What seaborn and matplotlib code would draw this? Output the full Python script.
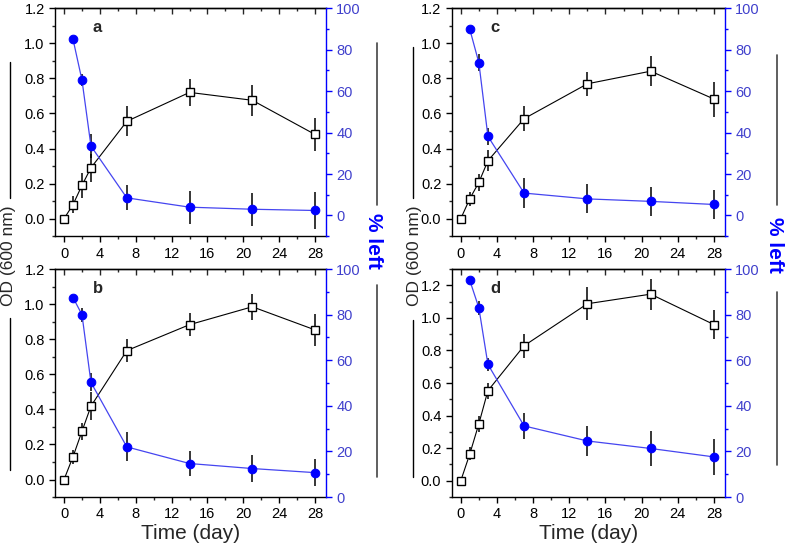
import matplotlib
matplotlib.use("Agg")
import matplotlib.pyplot as plt
import seaborn as sns
from matplotlib.lines import Line2D
from matplotlib.ticker import MultipleLocator

# time points (days)
days_od = [0, 1, 2, 3, 7, 14, 21, 28]
days_pct = [1, 2, 3, 7, 14, 21, 28]

# OD (600 nm) per panel, with error
od_a = [0.0, 0.08, 0.19, 0.29, 0.555, 0.72, 0.675, 0.48]
od_a_err = [0.0, 0.05, 0.07, 0.08, 0.085, 0.075, 0.09, 0.095]
od_b = [0.0, 0.13, 0.275, 0.418, 0.735, 0.883, 0.985, 0.853]
od_b_err = [0.0, 0.04, 0.05, 0.08, 0.065, 0.065, 0.075, 0.09]
od_c = [0.0, 0.114, 0.207, 0.33, 0.57, 0.769, 0.841, 0.682]
od_c_err = [0.0, 0.04, 0.05, 0.06, 0.07, 0.07, 0.085, 0.1]
od_d = [0.0, 0.165, 0.35, 0.553, 0.829, 1.087, 1.146, 0.959]
od_d_err = [0.0, 0.04, 0.05, 0.05, 0.075, 0.1, 0.095, 0.09]

# % left per panel, with error
pct_a = [85, 65.3, 33.5, 8.5, 4, 3, 2.4]
pct_a_err = [0, 3, 5.6, 6, 8, 8, 8.7]
pct_b = [87.5, 80, 50.3, 22, 14.7, 12.5, 10.7]
pct_b_err = [0, 3, 4, 6.4, 5.5, 6, 6]
pct_c = [89.8, 73.7, 38.2, 10.8, 8, 6.8, 5.3]
pct_c_err = [0, 4, 4, 7.3, 7, 7, 7]
pct_d = [95, 83, 58.2, 31.2, 24.6, 21.3, 17.6]
pct_d_err = [0, 3, 3, 5.6, 6.5, 7.5, 8]

sns.set_theme(style="ticks")
plt.rcParams["font.family"] = ["Liberation Sans", "DejaVu Sans"]

BLUE = "#0000ff"
TICK_BLUE = "#4040cc"

fig = plt.figure(figsize=(7.87, 5.48), dpi=100)

panels = [
    ("a", [0.070, 0.569, 0.344, 0.416], od_a, od_a_err, pct_a, pct_a_err, (-0.1, 1.2), (-10, 100)),
    ("b", [0.070, 0.093, 0.344, 0.416], od_b, od_b_err, pct_b, pct_b_err, (-0.1, 1.2), (0, 100)),
    ("c", [0.574, 0.569, 0.347, 0.416], od_c, od_c_err, pct_c, pct_c_err, (-0.1, 1.2), (-10, 100)),
    ("d", [0.574, 0.093, 0.347, 0.416], od_d, od_d_err, pct_d, pct_d_err, (-0.1, 1.3), (0, 100)),
]

for letter, pos, od, od_err, pct, pct_err, ylim_l, ylim_r in panels:
    ax = fig.add_axes(pos)
    ax2 = ax.twinx()

    # OD series
    ax.errorbar(days_od, od, yerr=od_err, fmt="none", ecolor="black", elinewidth=1.1, zorder=2)
    sns.lineplot(x=days_od, y=od, ax=ax, color="black", lw=0.8, marker="s",
                 markersize=5.8, markerfacecolor="white", markeredgecolor="black",
                 markeredgewidth=1.0, zorder=3)

    # % left series
    ax2.errorbar(days_pct, pct, yerr=pct_err, fmt="none", ecolor="black", elinewidth=1.1, zorder=2)
    sns.lineplot(x=days_pct, y=pct, ax=ax2, color="#4545f0", lw=0.9, marker="o",
                 markersize=6.2, markerfacecolor=BLUE, markeredgecolor=BLUE, zorder=3)

    ax.set_xlim(-1, 29.2)
    ax.set_ylim(*ylim_l)
    ax.set_yticks([0.0, 0.2, 0.4, 0.6, 0.8, 1.0, 1.2])
    ax.set_yticklabels(["0.0", "0.2", "0.4", "0.6", "0.8", "1.0", "1.2"])
    ax.set_xticks([0, 4, 8, 12, 16, 20, 24, 28])
    ax.xaxis.set_minor_locator(MultipleLocator(2))
    ax.yaxis.set_minor_locator(MultipleLocator(0.1))
    ax.tick_params(axis="both", which="major", labelsize=10.5, length=4, width=1,
                   direction="out", colors="black")
    ax.tick_params(axis="both", which="minor", length=2.5, width=1, direction="out")
    ax.set_xlabel("")
    ax.set_ylabel("")

    # inward ticks on the top frame
    top = ax.secondary_xaxis("top")
    top.set_xticks([0, 4, 8, 12, 16, 20, 24, 28])
    top.xaxis.set_minor_locator(MultipleLocator(2))
    top.tick_params(which="major", direction="in", length=4, width=1, labeltop=False)
    top.tick_params(which="minor", direction="in", length=2.5, width=1)
    top.spines["top"].set_linewidth(1)

    ax2.set_ylim(*ylim_r)
    ax2.set_yticks([0, 20, 40, 60, 80, 100])
    ax2.yaxis.set_minor_locator(MultipleLocator(10))
    ax2.tick_params(axis="y", which="major", labelsize=10.5, length=4, width=1,
                    colors=BLUE, labelcolor=TICK_BLUE, direction="out")
    ax2.tick_params(axis="y", which="minor", length=2.5, width=1, colors=BLUE, direction="out")
    ax2.set_ylabel("")

    for s in ["left", "bottom", "top"]:
        ax.spines[s].set_visible(True)
        ax.spines[s].set_color("black")
        ax.spines[s].set_linewidth(1)
    ax.spines["right"].set_visible(False)
    for s in ["left", "bottom", "top"]:
        ax2.spines[s].set_visible(False)
    ax2.spines["right"].set_visible(True)
    ax2.spines["right"].set_color(BLUE)
    ax2.spines["right"].set_linewidth(1)

    ax.text(0.14, 0.915, letter, transform=ax.transAxes, fontsize=12, fontweight="bold",
            ha="left", va="center")

    if letter in ("b", "d"):
        ax.set_xlabel("Time (day)", fontsize=15, labelpad=2)

# side labels with line segments (Origin style)
for x_txt, x_line, top_line, bot_line, y_txt in [
    (0.0114, 0.0127, (0.887, 0.639), (0.420, 0.142), 0.533),
    (0.527, 0.525, (0.914, 0.639), (0.416, 0.130), 0.533),
]:
    fig.text(x_txt, y_txt, "OD (600 nm)", rotation=90, ha="center", va="center", fontsize=12.5)
    fig.add_artist(Line2D([x_line, x_line], list(top_line), transform=fig.transFigure,
                          color="black", lw=1))
    fig.add_artist(Line2D([x_line, x_line], list(bot_line), transform=fig.transFigure,
                          color="black", lw=1))

for x_txt, x_line, top_line, bot_line, y_txt in [
    (0.474, 0.479, (0.922, 0.626), (0.480, 0.130), 0.560),
    (0.984, 0.987, (0.900, 0.626), (0.467, 0.151), 0.553),
]:
    fig.text(x_txt, y_txt, "% left", rotation=270, ha="center", va="center", fontsize=15,
             fontweight="bold", color=BLUE)
    fig.add_artist(Line2D([x_line, x_line], list(top_line), transform=fig.transFigure,
                          color="#444444", lw=1.2))
    fig.add_artist(Line2D([x_line, x_line], list(bot_line), transform=fig.transFigure,
                          color="#444444", lw=1.2))

fig.savefig("out.png", dpi=100)
